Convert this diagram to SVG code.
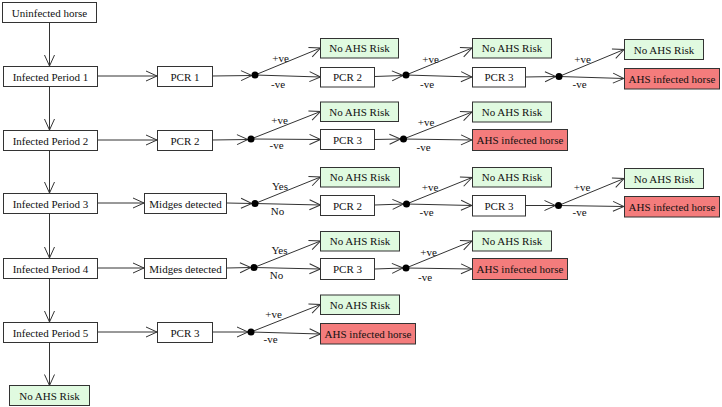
<svg xmlns="http://www.w3.org/2000/svg" width="722" height="407" viewBox="0 0 722 407">
<style>
  .box { fill: #ffffff; stroke: #333333; stroke-width: 1; }
  .ok { fill: #e0fae0; stroke: #333333; stroke-width: 1; }
  .bad { fill: #f47c7c; stroke: #333333; stroke-width: 1; }
  text { font-family: "Liberation Serif", "Times New Roman", serif; font-size: 11px; fill: #111111; text-anchor: middle; }
  .c line { stroke: #333333; stroke-width: 1; marker-end: url(#arr); }
  .c line.n { marker-end: none; }
  .dot { fill: #000000; }
</style>
<defs>
  <marker id="arr" markerUnits="userSpaceOnUse" markerWidth="13" markerHeight="12" refX="11" refY="5" orient="auto" viewBox="-1 -1 13 12">
    <path d="M0,0 L11,5 L0,10" fill="none" stroke="#333333" stroke-width="1"/>
  </marker>
</defs>
<rect width="722" height="407" fill="#ffffff"/>

<g id="connectors" class="c">
  <!-- vertical chain -->
  <line x1="49.5" y1="22" x2="49.5" y2="66"/>
  <line x1="49.5" y1="86" x2="49.5" y2="130"/>
  <line x1="49.5" y1="150" x2="49.5" y2="193"/>
  <line x1="49.5" y1="213" x2="49.5" y2="258"/>
  <line x1="49.5" y1="278" x2="49.5" y2="322"/>
  <line x1="49.5" y1="342" x2="49.5" y2="385.5"/>
  <!-- period to test -->
  <line x1="97" y1="76" x2="157" y2="76"/>
  <line x1="97" y1="140" x2="157" y2="140"/>
  <line x1="97" y1="203" x2="144" y2="203"/>
  <line x1="97" y1="268" x2="144" y2="268"/>
  <line x1="97" y1="332" x2="157" y2="332"/>
  <!-- row 1 -->
  <line x1="212" y1="76" x2="252" y2="75.5"/>
  <line x1="255" y1="75" x2="320.5" y2="48"/>
  <line x1="255" y1="75" x2="320.5" y2="77"/>
  <line x1="374.5" y1="76.5" x2="403" y2="75.5"/>
  <line x1="406" y1="75" x2="472" y2="48"/>
  <line x1="406" y1="75" x2="472" y2="77"/>
  <line x1="525" y1="77" x2="556" y2="76.5"/>
  <line x1="559" y1="76.5" x2="624" y2="49.5"/>
  <line x1="559" y1="76.5" x2="624" y2="78.5"/>
  <!-- row 2 -->
  <line x1="212" y1="140" x2="248" y2="139.5"/>
  <line x1="251" y1="139" x2="320.5" y2="111.5"/>
  <line x1="251" y1="139" x2="320.5" y2="139.5"/>
  <line x1="374.5" y1="139.5" x2="400.5" y2="139"/>
  <line x1="403.5" y1="139" x2="472" y2="112"/>
  <line x1="403.5" y1="139" x2="472" y2="140"/>
  <!-- row 3 -->
  <line x1="227" y1="203" x2="252" y2="203.5"/>
  <line x1="255" y1="203.5" x2="320.5" y2="177"/>
  <line x1="255" y1="203.5" x2="320.5" y2="205"/>
  <line x1="374.5" y1="205" x2="403.5" y2="204"/>
  <line x1="406.5" y1="204" x2="472" y2="177.5"/>
  <line x1="406.5" y1="204" x2="472" y2="205.5"/>
  <line x1="525" y1="205.5" x2="555.5" y2="205.5"/>
  <line x1="558.5" y1="205.5" x2="624" y2="178.5"/>
  <line x1="558.5" y1="205.5" x2="624" y2="206.5"/>
  <!-- row 4 -->
  <line x1="227" y1="268" x2="251" y2="267.5"/>
  <line x1="254" y1="267.5" x2="320.5" y2="241"/>
  <line x1="254" y1="267.5" x2="320.5" y2="269"/>
  <line x1="374.5" y1="269" x2="403" y2="268"/>
  <line x1="406" y1="268" x2="472" y2="241"/>
  <line x1="406" y1="268" x2="472" y2="269"/>
  <!-- row 5 -->
  <line x1="212" y1="332" x2="248" y2="332"/>
  <line x1="251" y1="332" x2="320.5" y2="304.5"/>
  <line x1="251" y1="332" x2="320.5" y2="334"/>
  <!-- dots -->
  <circle class="dot" cx="255" cy="75" r="3.5"/>
  <circle class="dot" cx="406" cy="75" r="3.5"/>
  <circle class="dot" cx="559" cy="76.5" r="3.5"/>
  <circle class="dot" cx="251" cy="139" r="3.5"/>
  <circle class="dot" cx="403.5" cy="139" r="3.5"/>
  <circle class="dot" cx="255" cy="203.5" r="3.5"/>
  <circle class="dot" cx="406.5" cy="204" r="3.5"/>
  <circle class="dot" cx="558.5" cy="205.5" r="3.5"/>
  <circle class="dot" cx="254" cy="267.5" r="3.5"/>
  <circle class="dot" cx="406" cy="268" r="3.5"/>
  <circle class="dot" cx="251" cy="332" r="3.5"/>
  <!-- labels -->
  <text x="280.5" y="61.5">+ve</text>
  <text x="278" y="87.5">-ve</text>
  <text x="430.5" y="62.5">+ve</text>
  <text x="427" y="87.5">-ve</text>
  <text x="582.5" y="62.5">+ve</text>
  <text x="579.5" y="88">-ve</text>
  <text x="279.5" y="123.5">+ve</text>
  <text x="276.5" y="148.5">-ve</text>
  <text x="426" y="125.5">+ve</text>
  <text x="423.5" y="150.5">-ve</text>
  <text x="280" y="189.5">Yes</text>
  <text x="277.5" y="214.5">No</text>
  <text x="430" y="190.5">+ve</text>
  <text x="426.5" y="215.5">-ve</text>
  <text x="582" y="190.5">+ve</text>
  <text x="579.5" y="215.5">-ve</text>
  <text x="279.5" y="253.5">Yes</text>
  <text x="276.5" y="278.5">No</text>
  <text x="428.5" y="255.5">+ve</text>
  <text x="425" y="280.5">-ve</text>
  <text x="273.5" y="317.5">+ve</text>
  <text x="270.5" y="342.5">-ve</text>
</g>

<g id="uninfected"><rect class="box" x="2.5" y="2.5" width="94" height="20"/><text x="49.5" y="16.5">Uninfected horse</text></g>

<g id="ip1"><rect class="box" x="3.5" y="66.5" width="94" height="20"/><text x="50.5" y="80.5">Infected Period 1</text></g>
<g id="r1-pcr1"><rect class="box" x="157.5" y="66.5" width="55" height="20"/><text x="185" y="80.5">PCR 1</text></g>
<g id="r1-no1"><rect class="ok" x="320.5" y="38.5" width="78" height="19.5"/><text x="359.5" y="52">No AHS Risk</text></g>
<g id="r1-pcr2"><rect class="box" x="320.5" y="67.5" width="54" height="19.5"/><text x="347.5" y="81">PCR 2</text></g>
<g id="r1-no2"><rect class="ok" x="472.5" y="38.5" width="79" height="19.5"/><text x="512" y="52">No AHS Risk</text></g>
<g id="r1-pcr3"><rect class="box" x="472.5" y="67.5" width="53" height="19.5"/><text x="499" y="81">PCR 3</text></g>
<g id="r1-no3"><rect class="ok" x="624.5" y="39.5" width="79" height="20"/><text x="664" y="53.5">No AHS Risk</text></g>
<g id="r1-ahs"><rect class="bad" x="624.5" y="68.5" width="95" height="20.5"/><text x="672" y="82.5">AHS infected horse</text></g>

<g id="ip2"><rect class="box" x="3.5" y="130.5" width="94" height="20"/><text x="50.5" y="144.5">Infected Period 2</text></g>
<g id="r2-pcr2"><rect class="box" x="157.5" y="130.5" width="55" height="20"/><text x="185" y="144.5">PCR 2</text></g>
<g id="r2-no1"><rect class="ok" x="320.5" y="102" width="78" height="19.5"/><text x="359.5" y="115.5">No AHS Risk</text></g>
<g id="r2-pcr3"><rect class="box" x="320.5" y="129.5" width="54" height="20"/><text x="347.5" y="143.5">PCR 3</text></g>
<g id="r2-no2"><rect class="ok" x="472.5" y="102" width="79" height="20"/><text x="512" y="116">No AHS Risk</text></g>
<g id="r2-ahs"><rect class="bad" x="472.5" y="129.5" width="95" height="21"/><text x="520" y="144">AHS infected horse</text></g>

<g id="ip3"><rect class="box" x="3.5" y="193.5" width="94" height="20"/><text x="50.5" y="207.5">Infected Period 3</text></g>
<g id="r3-midges"><rect class="box" x="144.5" y="193.5" width="82" height="20"/><text x="185.5" y="207.5">Midges detected</text></g>
<g id="r3-no1"><rect class="ok" x="320.5" y="167.5" width="79" height="19.5"/><text x="360" y="181">No AHS Risk</text></g>
<g id="r3-pcr2"><rect class="box" x="320.5" y="195.5" width="54" height="20"/><text x="347.5" y="209.5">PCR 2</text></g>
<g id="r3-no2"><rect class="ok" x="472.5" y="167.5" width="79" height="19.5"/><text x="512" y="181">No AHS Risk</text></g>
<g id="r3-pcr3"><rect class="box" x="472.5" y="195.5" width="53" height="20.5"/><text x="499" y="209.5">PCR 3</text></g>
<g id="r3-no3"><rect class="ok" x="624.5" y="168.5" width="79" height="20"/><text x="664" y="182.5">No AHS Risk</text></g>
<g id="r3-ahs"><rect class="bad" x="624.5" y="196.5" width="95" height="20.5"/><text x="672" y="210.5">AHS infected horse</text></g>

<g id="ip4"><rect class="box" x="3.5" y="258.5" width="94" height="20"/><text x="50.5" y="272.5">Infected Period 4</text></g>
<g id="r4-midges"><rect class="box" x="144.5" y="258.5" width="82" height="20"/><text x="185.5" y="272.5">Midges detected</text></g>
<g id="r4-no1"><rect class="ok" x="320.5" y="231.5" width="79" height="19.5"/><text x="360" y="245">No AHS Risk</text></g>
<g id="r4-pcr3"><rect class="box" x="320.5" y="258.5" width="54" height="21"/><text x="347.5" y="273">PCR 3</text></g>
<g id="r4-no2"><rect class="ok" x="472.5" y="231" width="79" height="20"/><text x="512" y="245">No AHS Risk</text></g>
<g id="r4-ahs"><rect class="bad" x="472.5" y="258.5" width="95" height="21"/><text x="520" y="273">AHS infected horse</text></g>

<g id="ip5"><rect class="box" x="3.5" y="322.5" width="94" height="20"/><text x="50.5" y="336.5">Infected Period 5</text></g>
<g id="r5-pcr3"><rect class="box" x="157.5" y="322.5" width="55" height="20"/><text x="185" y="336.5">PCR 3</text></g>
<g id="r5-no1"><rect class="ok" x="320.5" y="295" width="79" height="19.5"/><text x="360" y="308.5">No AHS Risk</text></g>
<g id="r5-ahs"><rect class="bad" x="320.5" y="323.5" width="95" height="20.5"/><text x="368" y="337.5">AHS infected horse</text></g>

<g id="bottom-no"><rect class="ok" x="9.5" y="385.5" width="80" height="20"/><text x="49.5" y="399.5">No AHS Risk</text></g>
</svg>
